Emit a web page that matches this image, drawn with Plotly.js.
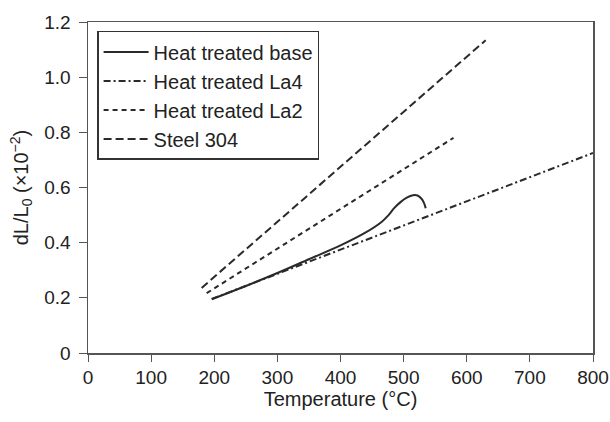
<!DOCTYPE html>
<html>
<head>
<meta charset="utf-8">
<script src="https://cdn.plot.ly/plotly-3.0.1.min.js"></script>
<style>html,body{margin:0;padding:0;background:#fff}#chart{width:610px;height:422px}</style>
</head>
<body>
<div id="chart"></div>
<script>
// Data
const baseT = [196, 250, 300, 350, 400, 440, 465, 475, 485, 495, 505, 515, 522, 528, 532, 535];
const baseV = [0.195, 0.243, 0.290, 0.340, 0.390, 0.437, 0.475, 0.497, 0.525, 0.547, 0.563, 0.572, 0.571, 0.560, 0.545, 0.525];
const la4T = [196, 800];
const la4V = [0.196, 0.725];
const la2T = [188, 579];
const la2V = [0.217, 0.780];
const steelT = [180, 630];
const steelV = [0.236, 1.134];
const yTickVals = [0, 0.2, 0.4, 0.6, 0.8, 1.0, 1.2];
const yTickText = ["0", "0.2", "0.4", "0.6", "0.8", "1.0", "1.2"];
const xTickVals = [0, 100, 200, 300, 400, 500, 600, 700, 800];

const lc = '#2a2a2a';
const traces = [
  {x: baseT, y: baseV, name: 'Heat treated base', mode: 'lines', line: {color: lc, width: 2, shape: 'spline'}},
  {x: la4T, y: la4V, name: 'Heat treated La4', mode: 'lines', line: {color: lc, width: 2, dash: '7px,3px,2px,3px'}},
  {x: la2T, y: la2V, name: 'Heat treated La2', mode: 'lines', line: {color: lc, width: 2, dash: '5px,4px'}},
  {x: steelT, y: steelV, name: 'Steel 304', mode: 'lines', line: {color: lc, width: 2, dash: '8px,4px'}}
];

const fam = 'Liberation Sans, Arial, sans-serif';
const fnt = {family: fam, size: 20, color: '#222'};
const tfnt = {family: fam, size: 19, color: '#222'};
const layout = {
  width: 610, height: 422,
  margin: {l: 88, r: 17, t: 22, b: 69},
  paper_bgcolor: '#fff', plot_bgcolor: '#fff',
  font: fnt,
  showlegend: true,
  legend: {
    x: 0.018, y: 0.973, xanchor: 'left', yanchor: 'top',
    bordercolor: '#333', borderwidth: 1.5, bgcolor: '#fff',
    font: {family: fam, size: 20, color: '#222'},
    itemwidth: 45,
    traceorder: 'normal'
  },
  xaxis: {
    range: [0, 800], tickvals: xTickVals, ticks: 'outside', ticklen: 7, tickcolor: '#555',
    showline: true, linecolor: '#555', linewidth: 1.5, mirror: true, showgrid: false, zeroline: false,
    ticklabeloverflow: 'allow',
    title: {text: 'Temperature (°C)', font: fnt, standoff: 4},
    tickfont: tfnt
  },
  yaxis: {
    range: [0, 1.2], tickvals: yTickVals, ticktext: yTickText, ticks: 'outside', ticklen: 8, tickcolor: '#555',
    showline: true, linecolor: '#555', linewidth: 1.5, mirror: true, showgrid: false, zeroline: false,
    ticklabeloverflow: 'allow', ticklabelstandoff: 4,
    title: {text: 'dL/L<sub>0</sub> (×10<sup>−2</sup>)', font: fnt, standoff: 10},
    tickfont: tfnt
  }
};
Plotly.newPlot('chart', traces, layout, {displayModeBar: false, staticPlot: true});
</script>
</body>
</html>
